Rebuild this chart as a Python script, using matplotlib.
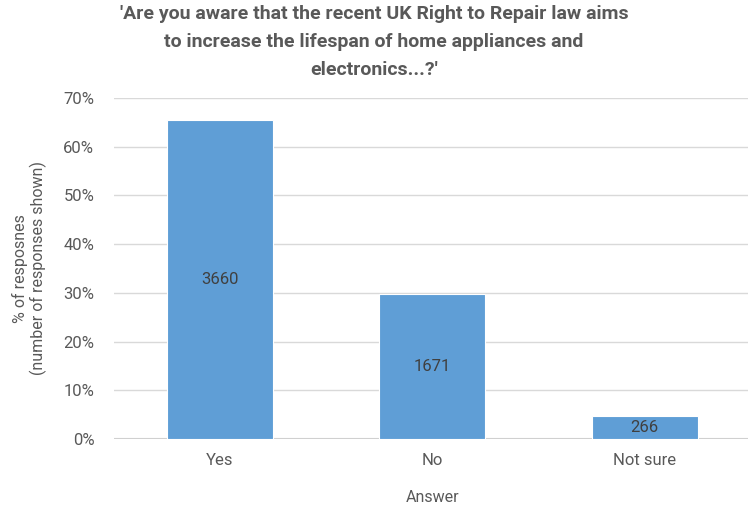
import matplotlib
matplotlib.use("Agg")
import matplotlib.pyplot as plt
from matplotlib.ticker import PercentFormatter, MultipleLocator

answers = ["Yes", "No", "Not sure"]
counts = [3660, 1671, 266]
title = ("'Are you aware that the recent UK Right to Repair law aims\n"
         "to increase the lifespan of home appliances and\n"
         "electronics...?'")

total = sum(counts)
shares = [100.0 * c / total for c in counts]

plt.rcParams['font.family'] = ['Roboto', 'DejaVu Sans']
text_col = "#595959"

fig = plt.figure(figsize=(7.48, 5.18), dpi=100)
ax = fig.add_axes([0.152, 0.1525, 0.852, 0.6585])

bars = ax.bar(range(len(answers)), shares, width=0.5, color="#5f9ed6",
              edgecolor="white", linewidth=0.8, zorder=3)
for b, c in zip(bars, counts):
    ax.text(b.get_x() + b.get_width() / 2, b.get_height() / 2, str(c),
            ha="center", va="center", fontsize=12, color="#404040", zorder=4)

ax.set_xlim(-0.5, 2.5)
ax.set_ylim(0, 70)
ax.yaxis.set_major_locator(MultipleLocator(10))
ax.yaxis.set_major_formatter(PercentFormatter(decimals=0))
ax.set_xticks(range(len(answers)))
ax.set_xticklabels(answers)
ax.grid(axis="y", color="#d9d9d9", linewidth=1, zorder=0)
ax.axhline(0, color="#d0d0d0", linewidth=1.5, zorder=2)
for s in ax.spines.values():
    s.set_visible(False)
ax.tick_params(axis="both", length=0, labelsize=12, colors=text_col)
ax.tick_params(axis="x", pad=10)
ax.tick_params(axis="y", pad=14)

ax.set_xlabel("Answer", fontsize=11.5, color=text_col, labelpad=16)
ax.set_ylabel("% of resposnes\n(number of responses shown)", fontsize=11.5,
              color=text_col, labelpad=12, linespacing=1.1)

fig.text(0.5, 0.99, title, ha="center", va="top", fontsize=14,
         fontweight="bold", color=text_col, linespacing=1.72)

fig.savefig("out.png", dpi=100)
